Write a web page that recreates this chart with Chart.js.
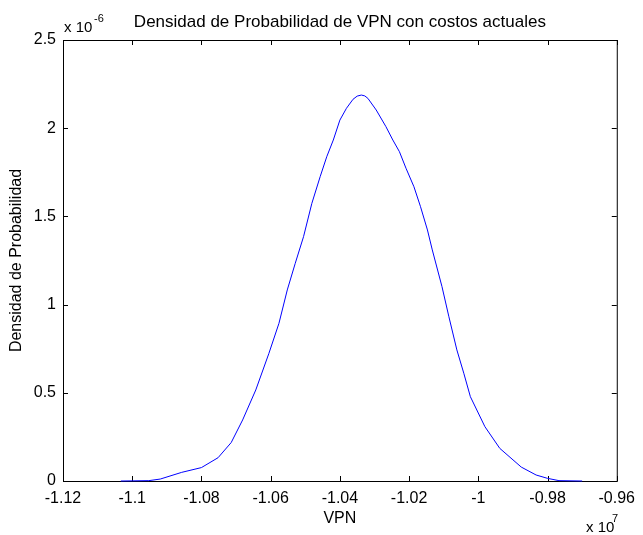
<!DOCTYPE html>
<html>
<head>
<meta charset="utf-8">
<script src="https://cdn.jsdelivr.net/npm/chart.js@4.4.0/dist/chart.umd.min.js"></script>
<style>
  body { margin: 0; background: #fff; }
  canvas { display: block; }
</style>
</head>
<body>
<canvas id="densityChart" width="643" height="535"></canvas>
<script>
// VPN (x 10^7)
const vpn = [
  -1.1033, -1.0952, -1.0919, -1.0857, -1.0800, -1.0752, -1.0714, -1.0681,
  -1.0643, -1.0605, -1.0576, -1.0552, -1.0529, -1.0505, -1.0481, -1.0457,
  -1.0438, -1.0419, -1.0400, -1.0381, -1.0362, -1.0350, -1.0338, -1.0328,
  -1.0319, -1.0295, -1.0267, -1.0247, -1.0228, -1.0209, -1.0186, -1.0167,
  -1.0147, -1.0133, -1.0105, -1.0085, -1.0062, -1.0042, -1.0023, -0.9981,
  -0.9938, -0.9876, -0.9833, -0.9800, -0.9767, -0.9700
];
// probability density (x 10^-6)
const density = [
  0.000, 0.002, 0.011, 0.049, 0.076, 0.132, 0.218, 0.346,
  0.516, 0.724, 0.894, 1.083, 1.234, 1.385, 1.574, 1.725,
  1.838, 1.933, 2.046, 2.113, 2.164, 2.182, 2.188, 2.183,
  2.169, 2.103, 2.009, 1.933, 1.867, 1.773, 1.668, 1.555,
  1.423, 1.310, 1.102, 0.931, 0.743, 0.611, 0.478, 0.308,
  0.185, 0.079, 0.034, 0.015, 0.002, 0.000
];
const xTicks = [-1.12, -1.10, -1.08, -1.06, -1.04, -1.02, -1.00, -0.98, -0.96];
const yTicks = [0, 0.5, 1, 1.5, 2, 2.5];

const fontFamily = '"Liberation Sans", Arial, Helvetica, sans-serif';

// MATLAB-like box, inward ticks and the exponent labels
const matlabFrame = {
  id: 'matlabFrame',
  beforeDatasetsDraw(chart) {
    const { ctx, chartArea: a, scales: { x, y } } = chart;
    ctx.save();
    ctx.strokeStyle = '#000';
    ctx.lineWidth = 1;
    ctx.strokeRect(a.left + 0.5, a.top + 0.5, a.right - a.left, a.bottom - a.top);
    ctx.beginPath();
    xTicks.forEach(v => {
      const px = Math.round(x.getPixelForValue(v)) + 0.5;
      ctx.moveTo(px, a.bottom); ctx.lineTo(px, a.bottom - 5);
      ctx.moveTo(px, a.top); ctx.lineTo(px, a.top + 5);
    });
    yTicks.forEach(v => {
      const py = Math.round(y.getPixelForValue(v)) + 0.5;
      ctx.moveTo(a.left, py); ctx.lineTo(a.left + 5, py);
      ctx.moveTo(a.right, py); ctx.lineTo(a.right - 5, py);
    });
    ctx.stroke();

    ctx.fillStyle = '#000';
    ctx.textBaseline = 'alphabetic';
    ctx.textAlign = 'left';
    ctx.font = '15px ' + fontFamily;
    ctx.fillText('x 10', a.left + 1, 32);
    ctx.fillText('x 10', 586, 532);
    ctx.font = '11px ' + fontFamily;
    ctx.fillText('-6', a.left + 31, 22);
    ctx.fillText('7', 612, 522);
    ctx.restore();
  }
};

const ctx = document.getElementById('densityChart').getContext('2d');
new Chart(ctx, {
  type: 'line',
  data: {
    datasets: [{
      data: vpn.map((v, i) => ({ x: v, y: density[i] })),
      borderColor: '#0000ff',
      borderWidth: 1,
      pointRadius: 0,
      tension: 0,
      fill: false,
      clip: 4
    }]
  },
  options: {
    responsive: false,
    animation: false,
    layout: { padding: { left: 0, right: 19, top: 0, bottom: 0 } },
    plugins: {
      legend: { display: false },
      tooltip: { enabled: false },
      title: {
        display: true,
        fullSize: false,
        text: 'Densidad de Probabilidad de VPN con costos actuales',
        color: '#000',
        font: { family: fontFamily, size: 17, weight: 'normal' },
        padding: { top: 11.8, bottom: 7.8 }
      }
    },
    scales: {
      x: {
        type: 'linear',
        min: -1.12,
        max: -0.96,
        afterBuildTicks: s => { s.ticks = xTicks.map(v => ({ value: v })); },
        afterFit: s => { s.height = 54; },
        grid: { display: false, drawTicks: false },
        border: { display: false },
        ticks: {
          color: '#000',
          padding: 8,
          maxRotation: 0,
          autoSkip: false,
          font: { family: fontFamily, size: 16 },
          callback: v => String(Number(v.toFixed(2)))
        },
        title: {
          display: true,
          text: 'VPN',
          color: '#000',
          font: { family: fontFamily, size: 16 },
          padding: { top: 0, bottom: 6.4 }
        }
      },
      y: {
        min: 0,
        max: 2.5,
        afterBuildTicks: s => { s.ticks = yTicks.map(v => ({ value: v })); },
        afterFit: s => { s.width = 63; },
        grid: { display: false, drawTicks: false },
        border: { display: false },
        ticks: {
          color: '#000',
          padding: 7,
          font: { family: fontFamily, size: 16 },
          callback: v => String(Number(v.toFixed(2)))
        },
        title: {
          display: true,
          text: 'Densidad de Probabilidad',
          color: '#000',
          font: { family: fontFamily, size: 16 },
          padding: { top: 7, bottom: 0 }
        }
      }
    }
  },
  plugins: [matlabFrame]
});
</script>
</body>
</html>
